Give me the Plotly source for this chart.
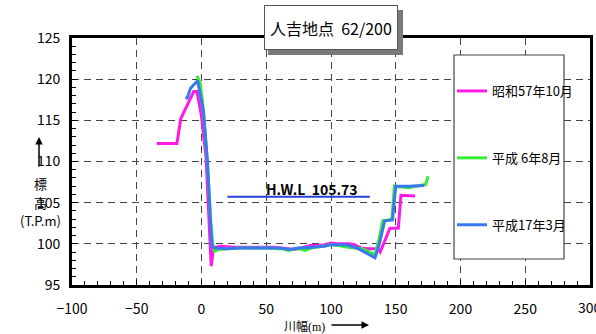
import plotly.graph_objects as go

# ---- data ----
s57_name = "昭和57年10月"
s57_x = [-34.5, -19, -16, -6, -3.5, 0, 3.5, 5.5, 7.5, 9, 11, 15, 25, 35, 45, 55, 62, 67, 71, 77, 84, 90, 95, 100, 105, 110, 114, 118, 123, 128, 133, 136, 138, 145.5, 152, 154, 165]
s57_y = [112.2, 112.2, 115.2, 118.5, 118.5, 115.5, 110.5, 103.0, 97.3, 99.2, 99.6, 99.7, 99.6, 99.6, 99.6, 99.6, 99.5, 99.4, 99.3, 99.5, 99.8, 99.8, 99.9, 100.1, 100.0, 100.0, 100.0, 99.9, 99.5, 99.4, 99.4, 99.4, 99.0, 101.9, 101.9, 105.9, 105.8]

h06_name = "平成 6年8月"
h06_x = [-3.5, -1, 1, 4.5, 7, 8.5, 10, 13, 20, 30, 40, 50, 58, 63, 67, 72, 76, 80, 85, 92, 100, 106, 112, 118, 124, 130, 134, 137, 140, 141.5, 147, 149, 155, 160, 165, 173, 175]
h06_y = [120.4, 119.5, 117, 110, 103, 100.2, 99.1, 99.3, 99.4, 99.5, 99.5, 99.5, 99.4, 99.4, 99.2, 99.4, 99.4, 99.2, 99.5, 99.7, 99.9, 99.8, 99.6, 99.5, 99.4, 99.0, 98.7, 100.5, 102.8, 102.8, 103.0, 107.0, 106.9, 106.8, 107.0, 107.2, 108.2]

h17_name = "平成17年3月"
h17_x = [-12.5, -11, -8.5, -6, -3, 1.5, 4.6, 7.7, 8.5, 11, 20, 30, 40, 50, 60, 68, 75, 85, 95, 100, 105, 111, 116, 120, 126, 131, 134, 137, 141.5, 147.5, 150, 160, 172]
h17_y = [117.7, 117.7, 118.9, 119.3, 119.8, 116.1, 110.0, 100.5, 99.6, 99.5, 99.4, 99.5, 99.5, 99.5, 99.5, 99.3, 99.5, 99.6, 99.7, 99.9, 99.9, 99.9, 99.7, 99.5, 99.0, 98.6, 98.3, 99.8, 102.8, 102.9, 107.0, 107.0, 107.1]

hwl_x = [20, 130]
hwl_value = 105.73
hwl_label = "H.W.L  105.73"

title_text = "人吉地点  62/200"
x_range = [-100, 300]
y_range = [95, 125]

# ---- layout helpers (pixel -> paper) ----
W, H = 596, 334
L, R, T, B = 72, 6, 38, 49
PW, PH = W - L - R, H - T - B
def px(xp): return (xp - L) / PW
def py(yp): return (H - B - yp) / PH

FONT = "Liberation Sans Narrow, Noto Sans CJK JP, sans-serif"
JFONT = "Noto Sans CJK JP, sans-serif"

fig = go.Figure()
fig.add_trace(go.Scatter(x=s57_x, y=s57_y, mode="lines", name=s57_name,
                         line=dict(color="#ff19e6", width=3), legendgroup="a"))
fig.add_trace(go.Scatter(x=h06_x, y=h06_y, mode="lines", name=h06_name,
                         line=dict(color="#33ee33", width=3), legendgroup="b"))
fig.add_trace(go.Scatter(x=h17_x, y=h17_y, mode="lines", name=h17_name,
                         line=dict(color="#3a78f2", width=3), legendgroup="c"))
fig.add_trace(go.Scatter(x=hwl_x, y=[hwl_value] * len(hwl_x), mode="lines",
                         line=dict(color="#2a3fd6", width=2), showlegend=False))

axis_common = dict(
    showline=True, linecolor="black", linewidth=3, mirror=True,
    showgrid=True, gridcolor="#444", gridwidth=1.3, griddash="7px,5px",
    ticks="inside", ticklen=5, tickcolor="black", tickwidth=1,
    zeroline=False, automargin=False,
    tickfont=dict(family=FONT, size=14, color="black"),
)
fig.update_xaxes(range=x_range, dtick=50, tick0=0,
                 minor=dict(dtick=10, ticks="inside", ticklen=4, tickcolor="black", showgrid=False),
                 ticklabelstandoff=9, **axis_common)
fig.update_yaxes(range=y_range, dtick=5, tick0=95,
                 minor=dict(dtick=1, ticks="inside", ticklen=4, tickcolor="black", showgrid=False),
                 ticklabelstandoff=6, **axis_common)

shapes = [
    # title shadow
    dict(type="rect", xref="paper", yref="paper", x0=px(268), x1=px(403), y0=py(55), y1=py(10),
         fillcolor="#7a7a7a", line=dict(width=0), layer="above"),
    # legend box
    dict(type="rect", xref="paper", yref="paper", x0=px(454), x1=px(564), y0=py(259), y1=py(55),
         fillcolor="white", line=dict(color="#444", width=1.2), layer="above"),
]

annotations = [
    dict(text=title_text, xref="paper", yref="paper", x=px(331), y=py(27.5),
         xanchor="center", yanchor="middle", showarrow=False, width=132, height=43,
         bgcolor="white", bordercolor="#555", borderwidth=1, borderpad=0,
         font=dict(family=JFONT, size=16, color="black")),
    dict(text="<b>" + hwl_label + "</b>", xref="x", yref="y", x=85, y=106.6,
         xanchor="center", yanchor="middle", showarrow=False,
         font=dict(family=FONT, size=14, color="black")),
    # last x tick label, cut by the right edge as in the original
    dict(text=str(x_range[1]), xref="x", yref="paper", x=x_range[1], y=py(307),
         xanchor="center", yanchor="middle", showarrow=False,
         font=dict(family=FONT, size=14, color="black")),
    # y axis label
    dict(text="", xref="paper", yref="paper", x=px(39), y=py(137), ax=0, ay=31,
         showarrow=True, arrowhead=2, arrowsize=1, arrowwidth=1.5, arrowcolor="black"),
    dict(text="標", xref="paper", yref="paper", x=px(40), y=py(183), showarrow=False,
         xanchor="center", yanchor="middle", font=dict(family=JFONT, size=13, color="black")),
    dict(text="高", xref="paper", yref="paper", x=px(40), y=py(202), showarrow=False,
         xanchor="center", yanchor="middle", font=dict(family=JFONT, size=13, color="black")),
    dict(text="(T.P.m)", xref="paper", yref="paper", x=px(40), y=py(220), showarrow=False,
         xanchor="center", yanchor="middle", font=dict(family=FONT, size=13, color="black")),
    # x axis label
    dict(text="川幅<span style='font-family:Liberation Sans Narrow'>(m)</span>",
         xref="paper", yref="paper", x=px(304), y=py(325), showarrow=False,
         xanchor="center", yanchor="middle", font=dict(family=JFONT, size=12, color="black")),
    dict(text="", xref="paper", yref="paper", x=px(369), y=py(325), ax=-39, ay=0,
         showarrow=True, arrowhead=2, arrowsize=1, arrowwidth=1.5, arrowcolor="black"),
]

fig.update_layout(
    width=W, height=H, margin=dict(l=L, r=R, t=T, b=B, autoexpand=False),
    paper_bgcolor="white", plot_bgcolor="white",
    shapes=shapes, annotations=annotations,
    showlegend=True,
    legend=dict(x=px(452), y=py(76), xanchor="left", yanchor="top",
                bgcolor="rgba(0,0,0,0)", borderwidth=0,
                traceorder="grouped", tracegroupgap=47,
                font=dict(family=JFONT, size=13, color="black"),
                itemwidth=30),
)

fig.write_html("out.html")
